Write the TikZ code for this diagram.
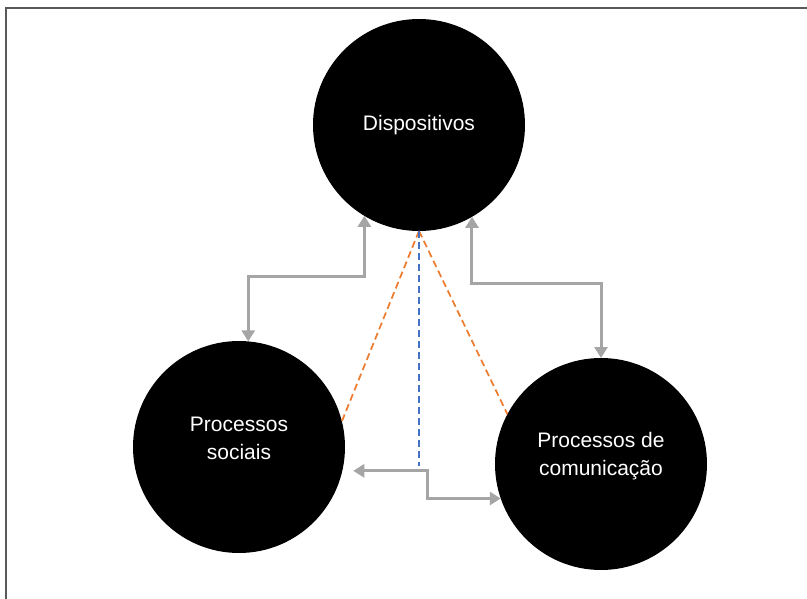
\documentclass[tikz,border=0pt]{standalone}
\usepackage{fontspec}
\setmainfont{Liberation Sans}
\usetikzlibrary{arrows.meta}
\definecolor{linkgray}{HTML}{A5A5A5}
\definecolor{dashorange}{HTML}{ED7D31}
\definecolor{dashblue}{HTML}{4472C4}
\newcommand{\lifted}[2]{\raisebox{#1}[\height][\depth]{\begin{tabular}{@{}c@{}}#2\end{tabular}}}
\begin{document}
\begin{tikzpicture}[
        x=1pt, y=-1pt,
        blob/.style={circle, fill=black, text=white, minimum size=212pt, inner sep=0pt, outer sep=0pt, align=center, font=\fontsize{21}{28}\selectfont},
        link/.style={{Triangle[width=13pt,length=11pt]}-{Triangle[width=13pt,length=11pt]}, linkgray, line width=3pt},
        guide/.style={dashed, dash pattern=on 7pt off 4pt, line width=1.75pt}
    ]
        \useasboundingbox (0,0) rectangle (807,599);
        % frame
        \draw [black!65, line width=2pt] (6,599) -- (6,8) -- (807,8);

        % circles
        \node (disp) [blob] at (419,125) {Dispositivos};
        \node (soc) [blob] at (239,447) {\lifted{7pt}{Processos\\sociais}};
        \node (com) [blob] at (601,464) {\lifted{8pt}{Processos de\\comunica\c{c}\~ao}};
        \coordinate (meet) at (419,466);

        % dashed guides
        \draw [guide, dashorange] (disp.south) -- (soc.14);
        \draw [guide, dashorange] (disp.south) -- (com.152);
        \draw [guide, dashblue] (disp.south) -- (meet);

        % two-way links
        \draw [link] (disp.239) -- ++(0,61) -| (soc.85);
        \draw [link] (disp.300) -- ++(0,67) -| (com.90);
        \draw [link, shorten <=11pt] (soc.-13) -- ++(85,0) |- (com.199);
    \end{tikzpicture}
\end{document}
